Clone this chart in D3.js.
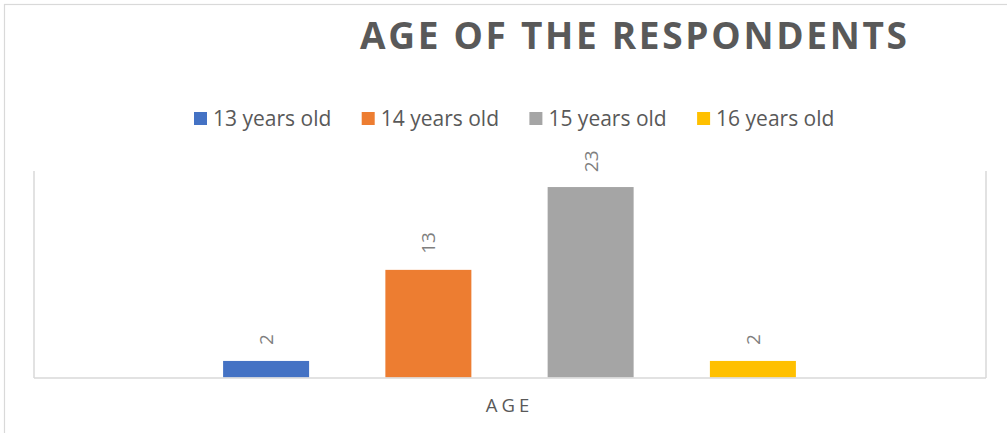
<!DOCTYPE html>
<html>
<head>
<meta charset="utf-8">
<script src="https://cdn.jsdelivr.net/npm/d3@7/dist/d3.min.js"></script>
<style>
  html, body { margin: 0; padding: 0; background: #fff; }
  svg { display: block; font-family: "Open Sans", "Noto Sans", sans-serif; }
</style>
</head>
<body>
<svg id="chart" width="1007" height="433"></svg>
<script>
const titleText = "AGE OF THE RESPONDENTS";
const categories = ["AGE"];
const series = ["13 years old", "14 years old", "15 years old", "16 years old"];
const values = [2, 13, 23, 2];
const colors = ["#4472C4", "#ED7D31", "#A5A5A5", "#FFC000"];
const yMax = 25;

const W = 1007, H = 433;
const svg = d3.select("#chart");

// outer chart border (right/bottom fall outside the window)
svg.append("rect")
  .attr("x", 4.5).attr("y", 4.5)
  .attr("width", W + 20).attr("height", H + 20)
  .attr("fill", "#fff").attr("stroke", "#d9d9d9").attr("stroke-width", 1.2);

// title
svg.append("text")
  .attr("x", 360).attr("y", 49)
  .attr("textLength", 547).attr("lengthAdjust", "spacing")
  .attr("font-size", 37).attr("font-weight", 700)
  .attr("fill", "#595959")
  .text(titleText);

// plot area
const plot = { left: 33.5, right: 985.5, top: 170.5, bottom: 377.5 };

const y = d3.scaleLinear().domain([0, yMax]).range([plot.bottom, plot.top]);
const x0 = d3.scaleBand().domain(categories).range([plot.left, plot.right])
  .paddingInner(0).paddingOuter(0.331);
const x1 = d3.scaleBand().domain(series).range([0, x0.bandwidth()])
  .paddingInner(0.47).paddingOuter(0);

// axes frame: left, right, bottom
const frameColor = "#d9d9d9";
svg.append("g").attr("transform", `translate(${plot.left},0)`)
  .call(d3.axisLeft(y).tickValues([]).tickSizeOuter(0))
  .call(g => g.select(".domain").attr("stroke", frameColor).attr("stroke-width", 1.5));
svg.append("g").attr("transform", `translate(${plot.right},0)`)
  .call(d3.axisRight(y).tickValues([]).tickSizeOuter(0))
  .call(g => g.select(".domain").attr("stroke", frameColor).attr("stroke-width", 1.5));

// bars
const g = svg.append("g");
const bars = series.map((s, i) => ({ s, v: values[i], c: colors[i], cat: categories[0] }));
g.selectAll("rect.bar").data(bars).join("rect")
  .attr("class", "bar")
  .attr("x", d => x0(d.cat) + x1(d.s))
  .attr("width", x1.bandwidth())
  .attr("y", d => y(d.v))
  .attr("height", d => y(0) - y(d.v))
  .attr("fill", d => d.c);

svg.append("g").attr("transform", `translate(0,${plot.bottom})`)
  .call(d3.axisBottom(x0).tickSize(0).tickFormat(""))
  .call(g => g.select(".domain").attr("stroke", frameColor).attr("stroke-width", 1.5));

// data labels (rotated)
g.selectAll("text.lbl").data(bars).join("text")
  .attr("class", "lbl")
  .attr("font-size", 19)
  .attr("fill", "#7f7f7f")
  .attr("dominant-baseline", "central")
  .attr("text-anchor", "start")
  .text(d => d.v)
  .each(function(d) {
    const len = this.getComputedTextLength();
    let start = y(d.v) - 16;
    const minTop = 150.5;
    if (start - len < minTop) start = minTop + len;
    const cx = x0(d.cat) + x1(d.s) + x1.bandwidth() / 2;
    d3.select(this).attr("transform", `translate(${cx},${start}) rotate(-90)`);
  });

// category axis label
svg.append("text")
  .attr("x", (plot.left + plot.right) / 2).attr("y", 412)
  .attr("text-anchor", "middle")
  .attr("font-size", 18.5)
  .attr("letter-spacing", 4)
  .attr("fill", "#595959")
  .text(categories[0]);

// legend
const lx = d3.scaleBand().domain(series).range([194, 194 + 4 * 167.7]);
const leg = svg.append("g").selectAll("g").data(series).join("g")
  .attr("transform", d => `translate(${lx(d)},112)`);
leg.append("rect").attr("width", 13).attr("height", 13)
  .attr("fill", (d, i) => colors[i]);
leg.append("text").attr("x", 19).attr("y", 14)
  .attr("font-size", 21).attr("fill", "#595959")
  .text(d => d);
</script>
</body>
</html>
